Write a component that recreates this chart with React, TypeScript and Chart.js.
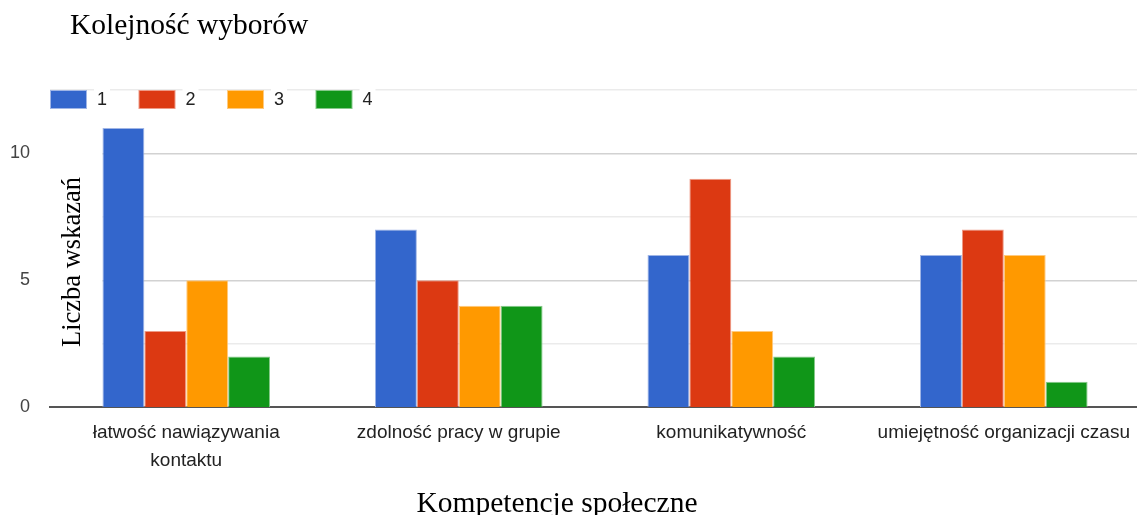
import { useEffect, useRef } from 'react';
import { Chart, registerables } from 'chart.js';

Chart.register(...registerables);

// Competences (x axis) and the number of times each was picked as choice 1–4
const categories: (string | string[])[] = [
  ['łatwość nawiązywania', 'kontaktu'],
  'zdolność pracy w grupie',
  'komunikatywność',
  'umiejętność organizacji czasu',
];
const seriesLabels = ['1', '2', '3', '4'];
const choice1 = [11, 7, 6, 6];
const choice2 = [3, 5, 9, 7];
const choice3 = [5, 4, 3, 6];
const choice4 = [2, 4, 2, 1];
const labelledTicks = [0, 5, 10];

const chartTitle = 'Kolejność wyborów';
const yTitle = 'Liczba wskazań';
const xTitle = 'Kompetencje społeczne';

const fills = ['#3366cc', '#dc3912', '#ff9900', '#109618'];
const edges = ['#9fb5e6', '#ee9a86', '#ffca7f', '#86c98a'];

const SANS = '"Liberation Sans", Arial, sans-serif';
const SERIF = '"Liberation Serif", "Times New Roman", serif';

const decorations = {
  id: 'decorations',
  beforeDatasetsDraw(chart: any) {
    // blank panel behind the vertical axis title, left of the first group
    const { ctx, chartArea, scales } = chart;
    const bar = chart.getDatasetMeta(0).data[0];
    const right = bar.x - bar.width / 2;
    const top = scales.y.getPixelForValue(11.5);
    const bottom = scales.y.getPixelForValue(0.4);
    ctx.save();
    ctx.fillStyle = '#ffffff';
    ctx.fillRect(chartArea.left, top, right - chartArea.left, bottom - top);
    ctx.restore();
  },
  afterDraw(chart: any) {
    const { ctx, chartArea } = chart;
    ctx.save();

    // chart title
    ctx.fillStyle = '#000';
    ctx.font = `29.5px ${SERIF}`;
    ctx.textAlign = 'left';
    ctx.textBaseline = 'alphabetic';
    ctx.fillText(chartTitle, 70, 34);

    // legend
    const step = 88.5;
    chart.data.datasets.forEach((ds: any, i: number) => {
      const bx = chartArea.left + i * step;
      const by = 90;
      ctx.fillStyle = ds.borderColor;
      ctx.fillRect(bx, by, 37, 19);
      ctx.fillStyle = ds.backgroundColor;
      ctx.fillRect(bx + 1, by + 1, 35, 17);
      ctx.font = `18px ${SANS}`;
      const tx = bx + 47;
      const w = ctx.measureText(ds.label).width;
      ctx.fillStyle = '#fff';
      ctx.fillRect(tx - 3, by - 2, w + 6, 23);
      ctx.fillStyle = '#222';
      ctx.textBaseline = 'middle';
      ctx.fillText(ds.label, tx, by + 10);
    });

    // vertical axis title, placed inside the plot
    ctx.translate(80, 262);
    ctx.rotate(-Math.PI / 2);
    ctx.fillStyle = '#000';
    ctx.font = `26.5px ${SERIF}`;
    ctx.textAlign = 'center';
    ctx.textBaseline = 'alphabetic';
    ctx.fillText(yTitle, 0, 0);
    ctx.setTransform(1, 0, 0, 1, 0, 0);

    // horizontal axis title
    ctx.font = `29.5px ${SERIF}`;
    ctx.textAlign = 'center';
    ctx.fillText(xTitle, 557, 512);

    ctx.restore();
  },
};

export default function App() {
  const canvasRef = useRef<HTMLCanvasElement | null>(null);

  useEffect(() => {
    const series = [choice1, choice2, choice3, choice4];
    const chart = new Chart(canvasRef.current as HTMLCanvasElement, {
      type: 'bar',
      data: {
        labels: categories,
        datasets: series.map((values, i) => ({
          label: seriesLabels[i],
          data: values,
          backgroundColor: fills[i],
          borderColor: edges[i],
          borderWidth: 1,
          borderSkipped: 'bottom',
          barPercentage: 1,
          categoryPercentage: 0.615,
        })),
      },
      options: {
        animation: false,
        responsive: true,
        maintainAspectRatio: false,
        layout: { padding: { left: 8, top: 90, right: 0, bottom: 28 } },
        plugins: {
          legend: { display: false },
          title: { display: false },
          tooltip: { enabled: false },
        },
        scales: {
          x: {
            grid: { display: false, drawTicks: false },
            border: { display: true, color: '#555', width: 2 },
            ticks: {
              color: '#222',
              padding: 12,
              maxRotation: 0,
              autoSkip: false,
              font: { family: SANS, size: 19, lineHeight: 1.47 },
            },
          },
          y: {
            min: 0,
            max: 12.5,
            afterFit(scale: any) {
              scale.width = 42;
            },
            border: { display: false },
            grid: {
              drawTicks: false,
              lineWidth: (c: any) => (c.tick && c.tick.value === 0 ? 0 : 1.5),
              color: (c: any) =>
                c.tick && labelledTicks.includes(c.tick.value) ? '#d2d2d2' : '#ebebeb',
            },
            ticks: {
              stepSize: 2.5,
              padding: 20,
              color: '#444',
              font: { family: SANS, size: 18 },
              callback: (v: any) => (labelledTicks.includes(Number(v)) ? String(v) : ''),
            },
          },
        },
      },
      plugins: [decorations],
    });
    return () => chart.destroy();
  }, []);

  return (
    <div style={{ position: 'fixed', inset: 0, overflow: 'hidden', background: '#fff' }}>
      <div style={{ position: 'absolute', left: 0, top: 0, width: 1142, height: 515 }}>
        <canvas ref={canvasRef} />
      </div>
    </div>
  );
}
